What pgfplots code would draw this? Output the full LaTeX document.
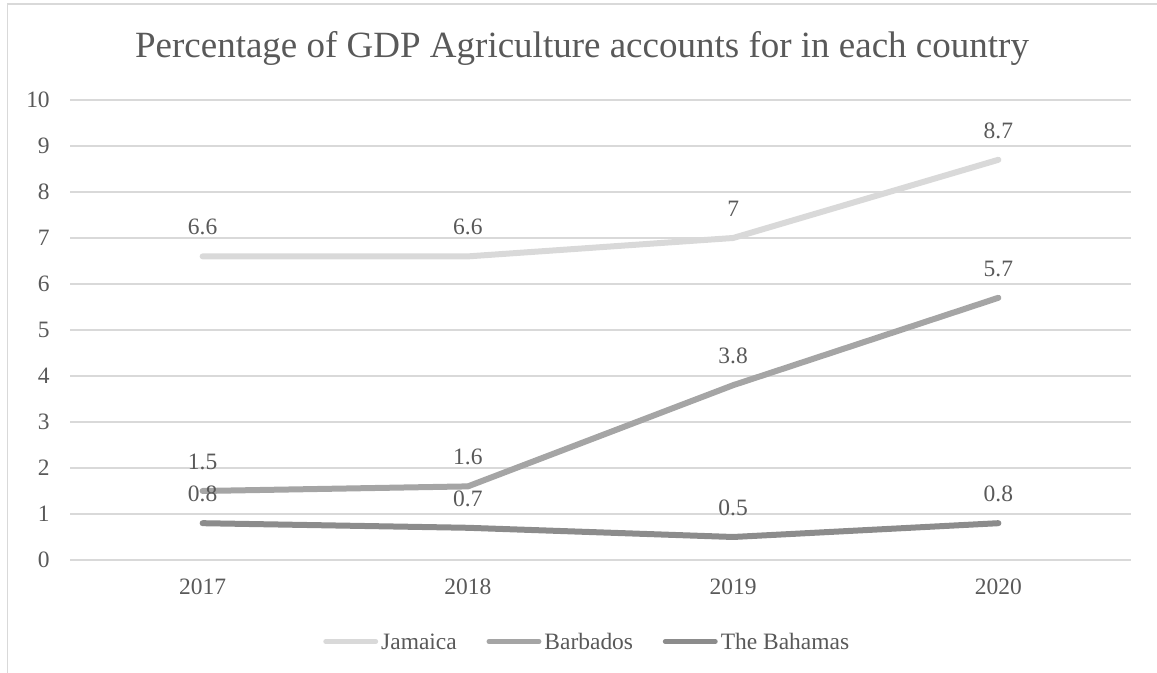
\documentclass[border=0pt]{standalone}
\usepackage{fontspec}
\setmainfont{Liberation Serif}
\usepackage{pgfplots}
\pgfplotsset{compat=1.18}
\definecolor{txtgray}{HTML}{595959}
\definecolor{gridgray}{HTML}{D9D9D9}
\definecolor{cJam}{HTML}{D9D9D9}
\definecolor{cBar}{HTML}{A5A5A5}
\definecolor{cBah}{HTML}{8C8C8C}
\begin{document}
\begin{tikzpicture}
\useasboundingbox (0,0) rectangle (867.75pt,504.75pt);
\draw[gridgray, line width=1.2pt] (5.6pt,0pt) -- (5.6pt,501.75pt) -- (867.75pt,501.75pt);
\node[anchor=base, text=txtgray, font=\fontsize{27.75}{33}\selectfont, inner sep=0pt] at (436.5pt,461.25pt) {Percentage of GDP Agriculture accounts for in each country};
\begin{axis}[
  at={(52.5pt,84.75pt)}, anchor=south west,
  scale only axis, width=795.75pt, height=345pt,
  xmin=-0.5, xmax=3.5, ymin=0, ymax=10,
  xtick={0,1,2,3}, xticklabels={2017,2018,2019,2020},
  ytick={0,1,...,10},
  axis line style={draw=none},
  major tick length=0pt,
  ymajorgrids, xmajorgrids=false,
  grid style={gridgray, line width=1.5pt},
  /pgf/number format/assume math mode=true,
  tick label style={text=txtgray, font=\fontsize{17.6}{20}\selectfont, inner sep=0pt},
  xticklabel style={anchor=north, yshift=-14pt},
  yticklabel style={anchor=east, xshift=-15pt},
  clip=false,
  nodes near coords,
  nodes near coords style={anchor=center, yshift=21.75pt, text=txtgray, font=\fontsize{17.6}{20}\selectfont, inner sep=0pt, /pgf/number format/assume math mode=true},
  legend columns=3,
  legend style={at={(0.2356,-0.1772)}, anchor=west, draw=none, fill=none, inner sep=0pt,
    font=\fontsize{17.6}{20}\selectfont, text=txtgray,
    /tikz/every odd column/.append style={column sep=0pt},
    /tikz/every even column/.append style={column sep=20pt},
    nodes={inner sep=0pt, text height=11.6pt, text depth=0pt}},
  legend image code/.code={\path (0pt,0pt) (41.25pt,0pt); \draw[#1, line width=3.75pt, line cap=round] (1.9pt,0pt) -- (39.35pt,0pt);},
  every axis plot/.append style={line width=4.5pt, line cap=round, line join=round, mark=none},
]
\addplot[cJam] coordinates {(0,6.6) (1,6.6) (2,7) (3,8.7)};
\addlegendentry{Jamaica}
\addplot[cBar] coordinates {(0,1.5) (1,1.6) (2,3.8) (3,5.7)};
\addlegendentry{Barbados}
\addplot[cBah] coordinates {(0,0.8) (1,0.7) (2,0.5) (3,0.8)};
\addlegendentry{The Bahamas}
\end{axis}
\end{tikzpicture}
\end{document}
